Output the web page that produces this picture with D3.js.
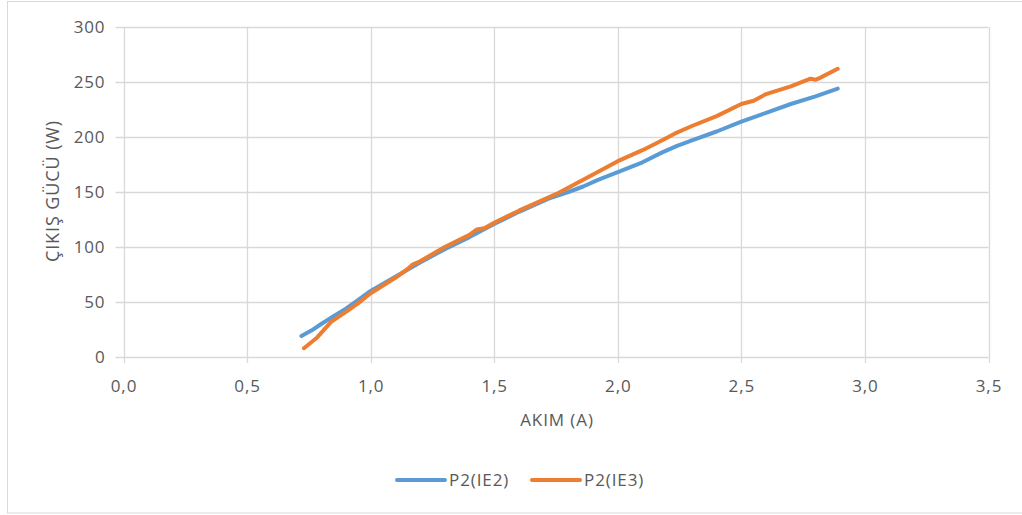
<!DOCTYPE html>
<html>
<head>
<meta charset="utf-8">
<script src="https://cdn.jsdelivr.net/npm/d3@7"></script>
<style>
  html, body { margin: 0; padding: 0; background: #fff; }
  svg { display: block; }
  text { font-family: "Open Sans", "Liberation Sans", sans-serif; fill: #595959; letter-spacing: 0.9px; }
</style>
</head>
<body>
<svg id="chart" width="1022" height="515"></svg>
<script>
// Output power vs. current for IE2 and IE3 motors
const currentIE2 = [0.72, 0.76, 0.80, 0.85, 0.90, 0.95, 1.00, 1.10, 1.20, 1.30, 1.40, 1.50, 1.60, 1.72, 1.80, 1.86, 1.92, 2.00, 2.10, 2.18, 2.24, 2.30, 2.40, 2.50, 2.60, 2.70, 2.80, 2.89];
const powerIE2   = [19, 24, 30, 37, 44, 52, 60, 73, 86, 98, 109, 121, 132, 144, 150, 155, 161, 168, 177, 186, 192, 197, 205, 214, 222, 230, 237, 244];

const currentIE3 = [0.73, 0.78, 0.84, 0.90, 0.95, 1.00, 1.05, 1.10, 1.15, 1.17, 1.20, 1.30, 1.40, 1.43, 1.46, 1.50, 1.60, 1.75, 1.90, 2.00, 2.10, 2.18, 2.23, 2.30, 2.40, 2.50, 2.55, 2.60, 2.70, 2.78, 2.80, 2.82, 2.89];
const powerIE3   = [8, 17, 32, 41, 49, 58, 65, 72, 80, 84, 87, 100, 111, 116, 117, 122, 133, 148, 166, 178, 188, 197, 203, 210, 219, 230, 233, 239, 246, 253, 252, 254, 262];

const seriesNames = ["P2(IE2)", "P2(IE3)"];
const seriesColors = ["#5b9bd5", "#ed7d31"];
const xTicks = [0, 0.5, 1.0, 1.5, 2.0, 2.5, 3.0, 3.5];
const yTicks = [0, 50, 100, 150, 200, 250, 300];
const xTitle = "AKIM (A)";
const yTitle = "ÇIKIŞ GÜCÜ (W)";

const svg = d3.select("#chart");

// chart frame
svg.append("rect")
  .attr("x", 7.5).attr("y", 1.5)
  .attr("width", 1030).attr("height", 511.5)
  .attr("fill", "none").attr("stroke", "#d9d9d9").attr("stroke-width", 1);

const x = d3.scaleLinear().domain([0, 3.5]).range([123.5, 988.5]);
const y = d3.scaleLinear().domain([0, 300]).range([357, 27]);

// gridlines
const grid = svg.append("g");
grid.selectAll("line.h").data(yTicks).join("line")
  .attr("x1", x(0) - 8).attr("x2", x(3.5))
  .attr("y1", d => Math.round(y(d)) + 0.5).attr("y2", d => Math.round(y(d)) + 0.5)
  .attr("stroke", "#d9d9d9").attr("stroke-width", 1.3);
grid.selectAll("line.v").data(xTicks).join("line")
  .attr("y1", y(300)).attr("y2", y(0) + 6)
  .attr("x1", d => Math.round(x(d)) + 0.5).attr("x2", d => Math.round(x(d)) + 0.5)
  .attr("stroke", "#d9d9d9").attr("stroke-width", 1.3);

// axes (labels only, lines come from the grid)
const fmtX = d => d3.format(".1f")(d).replace(".", ",");
const xAxis = svg.append("g")
  .attr("transform", `translate(0,${y(0)})`)
  .call(d3.axisBottom(x).tickValues(xTicks).tickFormat(fmtX).tickSize(0).tickPadding(23));
const yAxis = svg.append("g")
  .attr("transform", `translate(${x(0)},0)`)
  .call(d3.axisLeft(y).tickValues(yTicks).tickSize(0).tickPadding(18));
[xAxis, yAxis].forEach(g => {
  g.select(".domain").remove();
  g.selectAll("text")
    .attr("font-family", "'Open Sans', 'Liberation Sans', sans-serif")
    .attr("font-size", 17).attr("fill", "#595959");
});

// axis titles
svg.append("text")
  .attr("x", 557).attr("y", 426)
  .attr("text-anchor", "middle").attr("font-size", 17)
  .text(xTitle);
svg.append("text")
  .attr("transform", "translate(59,191) rotate(-90)")
  .attr("text-anchor", "middle").attr("font-size", 18)
  .text(yTitle);

// series lines
const series = [
  { name: seriesNames[0], color: seriesColors[0], data: currentIE2.map((c, i) => [c, powerIE2[i]]) },
  { name: seriesNames[1], color: seriesColors[1], data: currentIE3.map((c, i) => [c, powerIE3[i]]) }
];
const line = d3.line().x(d => x(d[0])).y(d => y(d[1]));
svg.append("g").selectAll("path").data(series).join("path")
  .attr("d", d => line(d.data))
  .attr("fill", "none")
  .attr("stroke", d => d.color)
  .attr("stroke-width", 4)
  .attr("stroke-linejoin", "round")
  .attr("stroke-linecap", "round");

// legend
const legendX = [397, 532];
const legend = svg.append("g").selectAll("g").data(series).join("g")
  .attr("transform", (d, i) => `translate(${legendX[i]},480)`);
legend.append("line")
  .attr("x1", 0).attr("x2", 48).attr("y1", 0).attr("y2", 0)
  .attr("stroke", d => d.color).attr("stroke-width", 4).attr("stroke-linecap", "round");
legend.append("text")
  .attr("x", 52).attr("y", 6).attr("font-size", 17)
  .text(d => d.name);
</script>
</body>
</html>
